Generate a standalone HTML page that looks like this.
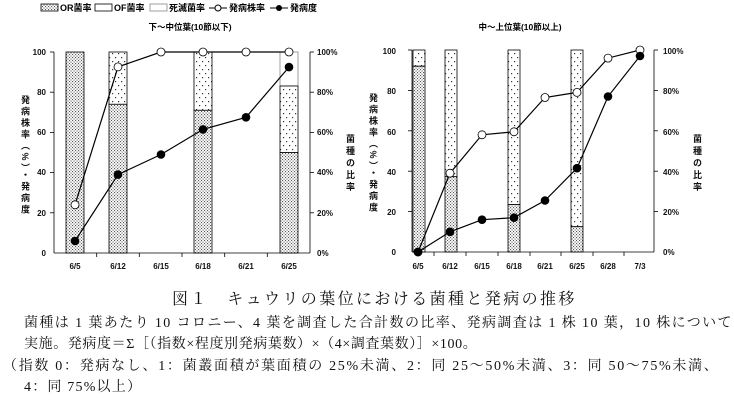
<!DOCTYPE html>
<html><head><meta charset="utf-8"><style>
body{margin:0;background:#fff;width:734px;height:403px;overflow:hidden;position:relative;font-family:"Liberation Serif","Noto Serif CJK SC",serif}
.t{position:absolute;white-space:nowrap;color:#111}
</style></head><body>
<svg width="734" height="290" style="position:absolute;left:0;top:0" font-family="Liberation Sans,Noto Sans CJK JP,sans-serif">
<defs>
<pattern id="or" width="3" height="3" patternUnits="userSpaceOnUse"><rect width="3" height="3" fill="#fff"/><rect x="0" y="0" width="1.1" height="1.1" fill="#555"/><rect x="1.5" y="1.5" width="1.1" height="1.1" fill="#555"/></pattern>
<pattern id="of" width="6" height="8" patternUnits="userSpaceOnUse"><rect width="6" height="8" fill="#fff"/><rect x="1" y="1" width="1.2" height="1.2" fill="#333"/><rect x="4" y="5" width="1.2" height="1.2" fill="#333"/></pattern>
</defs>
<g font-size="9" font-weight="bold">
<rect x="41" y="4" width="17" height="7" fill="url(#or)" stroke="#000" stroke-width="0.8"/><text x="60" y="11">OR菌率</text>
<rect x="95" y="4" width="17" height="7" fill="#fff" stroke="#000" stroke-width="0.8"/><text x="114" y="11">OF菌率</text>
<rect x="150" y="4" width="17" height="7" fill="#fff" stroke="#888" stroke-width="0.8"/><text x="169" y="11">死滅菌率</text>
<line x1="209" y1="8" x2="227" y2="8" stroke="#000"/><circle cx="218" cy="8" r="3" fill="#fff" stroke="#000"/><text x="229" y="11">発病株率</text>
<line x1="270" y1="8" x2="288" y2="8" stroke="#000"/><circle cx="279" cy="8" r="3" fill="#000"/><text x="290" y="11">発病度</text>
<text x="190" y="30" text-anchor="middle" font-size="8.5">下〜中位葉(10節以下)</text>
<text x="520" y="30" text-anchor="middle" font-size="8.5">中〜上位葉(10節以上)</text>
</g>
<g stroke-width="0.8">
<line x1="54" y1="52" x2="54" y2="253" stroke="#000"/>
<line x1="310" y1="52" x2="310" y2="253" stroke="#000"/>
<line x1="54" y1="253" x2="310" y2="253" stroke="#000"/>
<g stroke="#000">
<line x1="50" y1="52" x2="54" y2="52"/><line x1="50" y1="92.2" x2="54" y2="92.2"/><line x1="50" y1="132.4" x2="54" y2="132.4"/><line x1="50" y1="172.6" x2="54" y2="172.6"/><line x1="50" y1="212.8" x2="54" y2="212.8"/>
<line x1="310" y1="52" x2="314" y2="52"/><line x1="310" y1="92.2" x2="314" y2="92.2"/><line x1="310" y1="132.4" x2="314" y2="132.4"/><line x1="310" y1="172.6" x2="314" y2="172.6"/><line x1="310" y1="212.8" x2="314" y2="212.8"/>
<line x1="96.7" y1="253" x2="96.7" y2="257"/><line x1="139.3" y1="253" x2="139.3" y2="257"/><line x1="182" y1="253" x2="182" y2="257"/><line x1="224.7" y1="253" x2="224.7" y2="257"/><line x1="267.3" y1="253" x2="267.3" y2="257"/>
</g>
<rect x="66" y="52" width="18" height="201" fill="url(#or)" stroke="#000"/>
<rect x="109" y="52" width="18" height="52.3" fill="url(#of)" stroke="#000"/>
<rect x="109" y="104.3" width="18" height="148.7" fill="url(#or)" stroke="#000"/>
<rect x="194" y="52" width="18" height="58.3" fill="url(#of)" stroke="#000"/>
<rect x="194" y="110.3" width="18" height="142.7" fill="url(#or)" stroke="#000"/>
<rect x="280" y="52" width="18" height="34" fill="#fff" stroke="#888"/>
<rect x="280" y="86" width="18" height="66.5" fill="url(#of)" stroke="#000"/>
<rect x="280" y="152.5" width="18" height="100.5" fill="url(#or)" stroke="#000"/>
<polyline points="75,204.8 118,66.9 161,52 203,52 246,52 289,52" fill="none" stroke="#000" stroke-width="1.2"/>
<g fill="#fff" stroke="#000"><circle cx="75" cy="204.8" r="4"/><circle cx="118" cy="66.9" r="4"/><circle cx="161" cy="52" r="4"/><circle cx="203" cy="52" r="4"/><circle cx="246" cy="52" r="4"/><circle cx="289" cy="52" r="4"/></g>
<polyline points="75,241 118,174.6 161,154.5 203,129.4 246,117.3 289,67.1" fill="none" stroke="#000" stroke-width="1.2"/>
<g fill="#000"><circle cx="75" cy="241" r="4.3"/><circle cx="118" cy="174.6" r="4.3"/><circle cx="161" cy="154.5" r="4.3"/><circle cx="203" cy="129.4" r="4.3"/><circle cx="246" cy="117.3" r="4.3"/><circle cx="289" cy="67.1" r="4.3"/></g>
</g>
<g font-size="8" font-weight="bold" fill="#111">
<text x="46" y="55" text-anchor="end">100</text><text x="46" y="95" text-anchor="end">80</text><text x="46" y="135" text-anchor="end">60</text><text x="46" y="175" text-anchor="end">40</text><text x="46" y="216" text-anchor="end">20</text><text x="46" y="256" text-anchor="end">0</text>
<text x="317" y="55">100%</text><text x="317" y="95">80%</text><text x="317" y="135">60%</text><text x="317" y="175">40%</text><text x="317" y="216">20%</text><text x="317" y="256">0%</text>
<g text-anchor="middle"><text x="75" y="269">6/5</text><text x="118" y="269">6/12</text><text x="161" y="269">6/15</text><text x="203" y="269">6/18</text><text x="246" y="269">6/21</text><text x="289" y="269">6/25</text></g>
<text x="25" y="95" font-size="9" style="writing-mode:vertical-rl" letter-spacing="2.5">発病株率（%）・発病度</text>
<text x="350" y="134" font-size="9" style="writing-mode:vertical-rl" letter-spacing="3">菌種の比率</text>
<text x="396" y="54" text-anchor="end">100</text><text x="396" y="94" text-anchor="end">80</text><text x="396" y="135" text-anchor="end">60</text><text x="396" y="175" text-anchor="end">40</text><text x="396" y="215" text-anchor="end">20</text><text x="396" y="255" text-anchor="end">0</text>
<text x="663" y="54">100%</text><text x="663" y="94">80%</text><text x="663" y="135">60%</text><text x="663" y="175">40%</text><text x="663" y="215">20%</text><text x="663" y="255">0%</text>
<g text-anchor="middle"><text x="418" y="269">6/5</text><text x="450" y="269">6/12</text><text x="482" y="269">6/15</text><text x="514" y="269">6/18</text><text x="545" y="269">6/21</text><text x="577" y="269">6/25</text><text x="608" y="269">6/28</text><text x="640" y="269">7/3</text></g>
<text x="373" y="93" font-size="9" style="writing-mode:vertical-rl" letter-spacing="2.5">発病株率（%）・発病度</text>
<text x="697" y="134" font-size="9" style="writing-mode:vertical-rl" letter-spacing="3">菌種の比率</text>
</g>
<g stroke-width="0.8">
<line x1="412" y1="50" x2="412" y2="252" stroke="#000"/>
<line x1="654" y1="50" x2="654" y2="252" stroke="#000"/>
<line x1="412" y1="252" x2="654" y2="252" stroke="#000"/>
<g stroke="#000">
<line x1="408" y1="50" x2="412" y2="50"/><line x1="408" y1="90.4" x2="412" y2="90.4"/><line x1="408" y1="130.8" x2="412" y2="130.8"/><line x1="408" y1="171.2" x2="412" y2="171.2"/><line x1="408" y1="211.6" x2="412" y2="211.6"/>
<line x1="654" y1="50" x2="658" y2="50"/><line x1="654" y1="90.4" x2="658" y2="90.4"/><line x1="654" y1="130.8" x2="658" y2="130.8"/><line x1="654" y1="171.2" x2="658" y2="171.2"/><line x1="654" y1="211.6" x2="658" y2="211.6"/>
<line x1="434" y1="252" x2="434" y2="256"/><line x1="466" y1="252" x2="466" y2="256"/><line x1="498" y1="252" x2="498" y2="256"/><line x1="530" y1="252" x2="530" y2="256"/><line x1="561" y1="252" x2="561" y2="256"/><line x1="593" y1="252" x2="593" y2="256"/><line x1="624" y1="252" x2="624" y2="256"/>
</g>
<rect x="413" y="50" width="12" height="16.2" fill="url(#of)" stroke="#000"/>
<rect x="413" y="66.2" width="12" height="185.8" fill="url(#or)" stroke="#000"/>
<rect x="445" y="50" width="12" height="126.7" fill="url(#of)" stroke="#000"/>
<rect x="445" y="176.7" width="12" height="75.3" fill="url(#or)" stroke="#000"/>
<rect x="508" y="50" width="12" height="154.5" fill="url(#of)" stroke="#000"/>
<rect x="508" y="204.5" width="12" height="47.5" fill="url(#or)" stroke="#000"/>
<rect x="571" y="50" width="12" height="176.7" fill="url(#of)" stroke="#000"/>
<rect x="571" y="226.7" width="12" height="25.3" fill="url(#or)" stroke="#000"/>
<polyline points="418,252 450,173.2 482,134.8 514,131.8 545,97.5 577,92.4 608,58.1 640,50" fill="none" stroke="#000" stroke-width="1.2"/>
<g fill="#fff" stroke="#000"><circle cx="418" cy="252" r="4"/><circle cx="450" cy="173.2" r="4"/><circle cx="482" cy="134.8" r="4"/><circle cx="514" cy="131.8" r="4"/><circle cx="545" cy="97.5" r="4"/><circle cx="577" cy="92.4" r="4"/><circle cx="608" cy="58.1" r="4"/><circle cx="640" cy="50" r="4"/></g>
<polyline points="418,252 450,231.8 482,219.7 514,217.7 545,200.5 577,168.2 608,96.5 640,56" fill="none" stroke="#000" stroke-width="1.2"/>
<g fill="#000"><circle cx="418" cy="252" r="4.3"/><circle cx="450" cy="231.8" r="4.3"/><circle cx="482" cy="219.7" r="4.3"/><circle cx="514" cy="217.7" r="4.3"/><circle cx="545" cy="200.5" r="4.3"/><circle cx="577" cy="168.2" r="4.3"/><circle cx="608" cy="96.5" r="4.3"/><circle cx="640" cy="56" r="4.3"/></g>
</g>
</svg>
<div class="t" style="left:172px;top:286px;font-size:16px;letter-spacing:2.4px">図１　キュウリの葉位における菌種と発病の推移</div>
<div class="t" style="left:24px;top:312px;font-size:14px;letter-spacing:1.4px">菌種は 1 葉あたり 10 コロニー、4 葉を調査した合計数の比率、発病調査は 1 株 10 葉，10 株について</div>
<div class="t" style="left:24px;top:333px;font-size:14px;letter-spacing:0.6px">実施。発病度＝Σ［（指数×程度別発病葉数）×（4×調査葉数）］×100。</div>
<div class="t" style="left:3px;top:355px;font-size:14px;letter-spacing:1.7px">（指数 0：発病なし、1：菌叢面積が葉面積の 25%未満、2：同 25〜50%未満、3：同 50〜75%未満、</div>
<div class="t" style="left:24px;top:376px;font-size:14px;letter-spacing:1.2px">4：同 75%以上）</div>
</body></html>
